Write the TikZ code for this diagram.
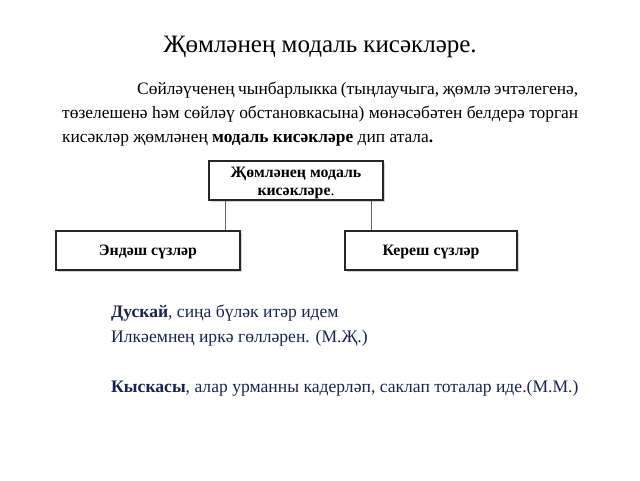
\documentclass[tikz,border=0pt]{standalone}
\usepackage{fontspec}
\setmainfont{Liberation Serif}
\usetikzlibrary{shadows}
\definecolor{navy}{HTML}{1A2452}
\begin{document}
\begin{tikzpicture}[x=1pt,y=-1pt,
  box/.style={draw=black!85, line width=1.6pt, fill=white, inner sep=0pt,
    font=\bfseries\fontsize{15.8}{19}\selectfont, align=center,
    drop shadow={shadow xshift=2pt, shadow yshift=-2pt, fill=gray!35, opacity=1}},
  onebox/.style={box, text height=11pt, text depth=2pt},
  boxlbl/.style={inner sep=0pt, font=\bfseries\fontsize{15.8}{18.5}\selectfont, align=center},
  link/.style={draw=gray!80!black, line width=0.8pt},
  ex/.style={anchor=base west, text=navy, inner sep=0pt, font=\fontsize{17.6}{20}\selectfont}]
\useasboundingbox[fill=white] (0,0) rectangle (640,480);
\node[font=\fontsize{25}{30}\selectfont, anchor=base, inner sep=0pt] (title) at (320,52) {Җөмләнең модаль кисәкләре.};
\node[anchor=north west, inner sep=0pt, text width=516pt, align=justify,
  font=\fontsize{17.4}{24}\selectfont] (para) at (62,82)
  {\hspace*{75pt}Сөйләүченең чынбарлыкка (тыңлаучыга, җөмлә эчтәлегенә,\linebreak төзелешенә һәм сөйләү обстановкасына) мөнәсәбәтен белдерә торган\linebreak кисәкләр җөмләнең \textbf{модаль кисәкләре} дип атала\textbf{.}};
\node[box, minimum width=174pt, minimum height=39pt,
  label={[boxlbl, yshift=-2.5pt]center:{Җөмләнең модаль\\кисәкләре\textmd{.}}}] (top) at (296,180.5) {};
\node[onebox, minimum width=184pt, minimum height=39pt] (left) at (148,250.5) {Эндәш сүзләр};
\node[onebox, minimum width=172pt, minimum height=39pt] (right) at (431,250.5) {Кереш сүзләр};
\coordinate (lx) at (225,0);
\coordinate (rx) at (371,0);
\draw[link] (top.south -| lx) -- (left.north -| lx);
\draw[link] (top.south -| rx) -- (right.north -| rx);
\node[ex] (ex1) at (111,317) {\textbf{Дускай}, сиңа бүләк итәр идем};
\node[ex] (ex2) at (111,342) {Илкәемнең иркә гөлләрен. (М.Җ.)};
\node[ex] (ex3) at (111,392) {\textbf{Кыскасы}, алар урманны кадерләп, саклап тоталар иде.(М.М.)};
\end{tikzpicture}
\end{document}
